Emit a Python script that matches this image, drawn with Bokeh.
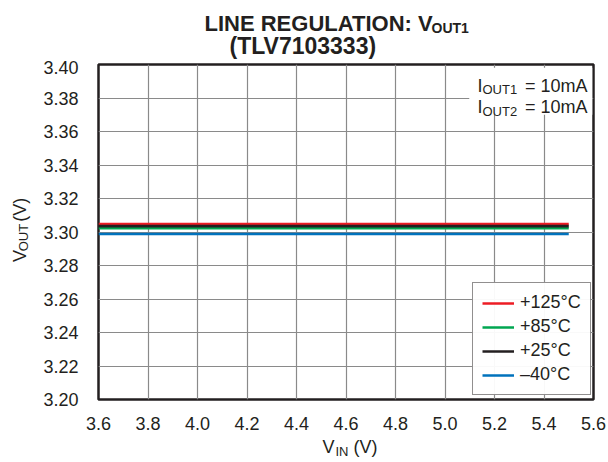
import math
from bokeh.plotting import figure
from bokeh.layouts import column, row
from bokeh.core.properties import value
from bokeh.models import (Label, Legend, LegendItem, FixedTicker, BoxAnnotation,
                          CustomJSTickFormatter, Range1d)
from bokeh.embed import file_html
from bokeh.resources import INLINE

# data
vin = [3.6, 5.5]
v125 = [3.3047, 3.3047]
v85 = [3.3023, 3.3023]
v25 = [3.3035, 3.3035]
vm40 = [3.2988, 3.2988]
x_ticks = [3.6, 3.8, 4.0, 4.2, 4.4, 4.6, 4.8, 5.0, 5.2, 5.4, 5.6]
y_ticks = [3.20, 3.22, 3.24, 3.26, 3.28, 3.30, 3.32, 3.34, 3.36, 3.38, 3.40]
series_labels = ["+125°C", "+85°C", "+25°C", "–40°C"]

FONT = "Liberation Sans"
INK = "#231f20"

# ---------------- main chart ----------------
p = figure(width=568, height=373, x_range=(3.6, 5.6), y_range=(3.20, 3.40),
           output_backend="svg", toolbar_location=None,
           min_border_left=58, min_border_right=15, min_border_top=4, min_border_bottom=34)
p.outline_line_color = INK
p.outline_line_width = 2.5
p.background_fill_color = "white"

p.xaxis.ticker = FixedTicker(ticks=x_ticks)
p.yaxis.ticker = FixedTicker(ticks=y_ticks)
p.yaxis.formatter = CustomJSTickFormatter(code="return tick.toFixed(2);")
p.xaxis.formatter = CustomJSTickFormatter(code="return tick.toFixed(1);")
for ax in (p.xaxis, p.yaxis):
    ax.axis_line_color = None
    ax.major_tick_line_color = None
    ax.minor_tick_line_color = None
    ax.major_label_text_font = FONT
    ax.major_label_text_font_size = "18px"
    ax.major_label_text_color = INK
p.yaxis.major_label_standoff = 14
p.xaxis.major_label_standoff = 11

p.xgrid.ticker = FixedTicker(ticks=x_ticks)
p.ygrid.ticker = FixedTicker(ticks=y_ticks)
for g in (p.xgrid, p.ygrid):
    g.grid_line_color = "#8a8a8a"
    g.grid_line_width = 1.2

rb = p.line(vin, vm40, line_color="#0072bc", line_width=2.6)
rg = p.line(vin, v85, line_color="#00a651", line_width=2.6)
rr = p.line(vin, v125, line_color="#ed1c24", line_width=2.6)
rk = p.line(vin, v25, line_color=INK, line_width=2.6)

legend = Legend(items=[LegendItem(label=series_labels[0], renderers=[rr]),
                       LegendItem(label=series_labels[1], renderers=[rg]),
                       LegendItem(label=series_labels[2], renderers=[rk]),
                       LegendItem(label=series_labels[3], renderers=[rb])],
                location=(374, 4), margin=0,
                border_line_color=INK, border_line_width=1,
                label_text_font=FONT, label_text_font_size="18px",
                label_text_color=INK,
                glyph_width=32, glyph_height=20, label_height=20,
                label_standoff=6, padding=9, spacing=3)
p.add_layout(legend, "center")

# white box behind the current annotation
p.add_layout(BoxAnnotation(left=5.098, right=5.595, bottom=3.370, top=3.398,
                           fill_color="white", fill_alpha=1, line_color=None))


def lab(text, x, y, size, align="left"):
    # x, y in screen px relative to the frame's bottom-left corner
    p.add_layout(Label(x=x, y=y, x_units="screen", y_units="screen", text=text,
                       text_font=FONT, text_font_size=size,
                       text_align=align, text_baseline="alphabetic",
                       text_color=INK))


lab("I", 379, 314, "18px")
lab("OUT1", 384, 310, "13px")
lab("= 10mA", 489, 314, "18px", align="right")
lab("I", 379, 293, "18px")
lab("OUT2", 384, 288, "13px")
lab("= 10mA", 489, 293, "18px", align="right")


# ---------------- text strips (title, axis titles) ----------------
def strip(w, h, x0, y0):
    f = figure(width=w, height=h, x_range=Range1d(x0, x0 + w),
               y_range=Range1d(-(y0 + h), -y0), x_axis_location=None,
               y_axis_location=None, toolbar_location=None, output_backend="svg",
               min_border=0, outline_line_color=None)
    f.grid.visible = False
    return f


def txt(f, text, x, y, size, bold=False, angle=0.0, font=FONT):
    f.text(x=[x], y=[-y], text=[text], text_font=value(font),
           text_font_size=size, text_font_style="bold" if bold else "normal",
           text_align="left", text_baseline="alphabetic", text_color=INK,
           angle=angle)


top = strip(608, 60, 0, 0)
txt(top, "LINE REGULATION: V", 204, 23, "22px", bold=True)
txt(top, "OUT1", 431, 27, "14px", bold=True)
txt(top, "(TLV7103333)", 229, 45, "23px", bold=True)

left = strip(40, 373, 0, 60)
txt(left, "V", 19, 280, "18px", angle=math.pi / 2)
txt(left, "OUT", 23, 268, "13px", angle=math.pi / 2)
txt(left, "(V)", 19, 235, "18px", angle=math.pi / 2)

bottom = strip(608, 29, 0, 433)
txt(bottom, "V", 322, 446, "18px")
txt(bottom, "IN", 335, 451, "13px")
txt(bottom, "(V)", 353, 446, "18px")

layout = column(top, row(left, p), bottom)

open("out.html", "w").write(file_html(layout, INLINE))
